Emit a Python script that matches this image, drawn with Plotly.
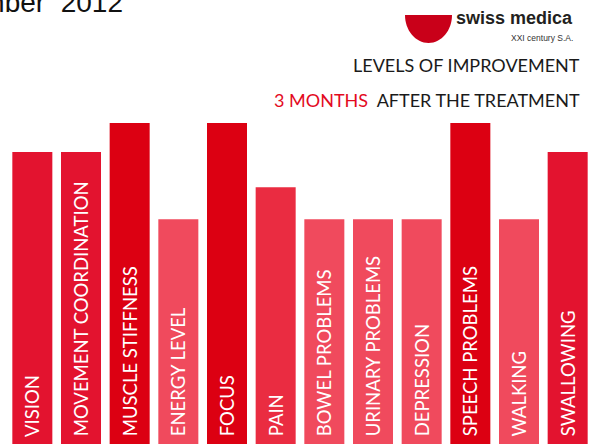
import plotly.graph_objects as go

categories = ["VISION", "MOVEMENT COORDINATION", "MUSCLE STIFFNESS", "ENERGY LEVEL",
              "FOCUS", "PAIN", "BOWEL PROBLEMS", "URINARY PROBLEMS", "DEPRESSION",
              "SPEECH PROBLEMS", "WALKING", "SWALLOWING"]
values = [91, 91, 100, 70, 100, 80, 70, 70, 70, 100, 70, 91]
level_colors = {100: "#DC0012", 91: "#E3132F", 80: "#EA2C41", 70: "#F04A5D"}
bar_colors = [level_colors[v] for v in values]

W, H = 592, 444
ML, MR, MT, MB = 8, 0, 123, 0
PW, PH = W - ML - MR, H - MT - MB

def px(x):
    return (x - ML) / PW

def py(y):
    return (H - MB - y) / PH

fig = go.Figure(go.Bar(
    x=categories, y=values, marker=dict(color=bar_colors, line=dict(width=0)),
    text=["&nbsp;" + c for c in categories], textposition="inside", insidetextanchor="start",
    textangle=-90, constraintext="none",
    insidetextfont=dict(family="Lato", size=18.5, color="white"),
    hoverinfo="skip",
))

# logo half-disc
cx, top, rx, ry = 428.5, 15, 23.5, 28
k = 0.5523
path = (f"M {px(cx-rx)},{py(top)} "
        f"C {px(cx-rx)},{py(top+k*ry)} {px(cx-k*rx)},{py(top+ry)} {px(cx)},{py(top+ry)} "
        f"C {px(cx+k*rx)},{py(top+ry)} {px(cx+rx)},{py(top+k*ry)} {px(cx+rx)},{py(top)} Z")
fig.add_shape(type="path", path=path, xref="paper", yref="paper",
              fillcolor="#C90019", line=dict(width=0), layer="above")

ann = [
    dict(text="December&nbsp; 2012", x=px(125), y=py(3), xanchor="right", yanchor="middle",
         font=dict(family="Liberation Sans", size=28, color="#111111")),
    dict(text="<b>swiss medica</b>", x=px(575), y=py(18), xanchor="right", yanchor="middle",
         font=dict(family="Liberation Sans", size=18, color="#231F20")),
    dict(text="XXI century S.A.", x=px(575), y=py(38), xanchor="right", yanchor="middle",
         font=dict(family="Liberation Sans", size=8.5, color="#333333")),
    dict(text="LEVELS OF IMPROVEMENT", x=px(582), y=py(65.5), xanchor="right", yanchor="middle",
         font=dict(family="Lato", size=18, color="#1A1A1A")),
    dict(text="<span style='color:#E30A1E'>3 MONTHS</span>&nbsp; AFTER THE TREATMENT",
         x=px(582), y=py(100), xanchor="right", yanchor="middle",
         font=dict(family="Lato", size=18, color="#1A1A1A")),
]
for a in ann:
    a.update(xref="paper", yref="paper", showarrow=False)

fig.update_layout(
    width=W, height=H, margin=dict(l=ML, r=MR, t=MT, b=MB),
    paper_bgcolor="white", plot_bgcolor="white",
    bargap=0.178, showlegend=False, annotations=ann,
    xaxis=dict(visible=False, range=[-0.5, 11.5]),
    yaxis=dict(visible=False, range=[0, 100]),
)
fig.write_html("out.html", config={"displayModeBar": False},
               post_script="document.body.style.margin='0';document.body.style.overflow='hidden';")
